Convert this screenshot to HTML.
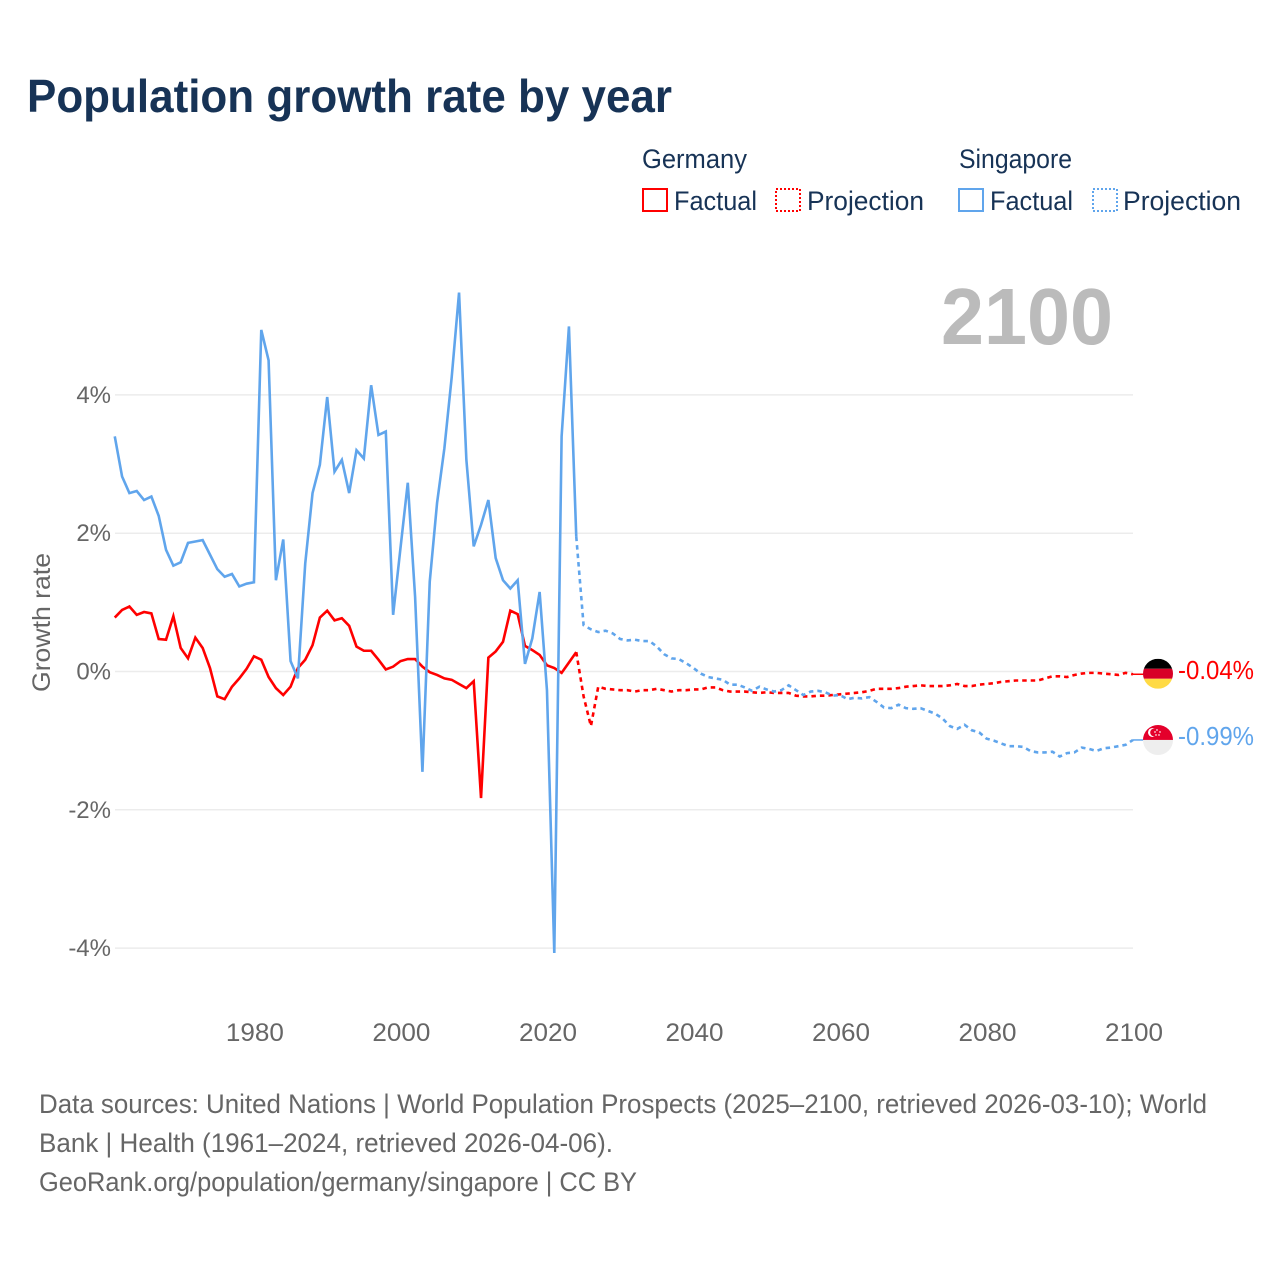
<!DOCTYPE html>
<html lang="en">
<head>
<meta charset="utf-8">
<title>Population growth rate by year</title>
<style>
html,body{margin:0;padding:0;background:#fff;}
svg{display:block;font-family:"Liberation Sans",Arial,sans-serif;}
</style>
</head>
<body>
<svg id="chart" xmlns="http://www.w3.org/2000/svg" width="1280" height="1280" viewBox="0 0 1280 1280">
<rect x="0" y="0" width="1280" height="1280" fill="#ffffff"/>
<text x="27" y="112" font-size="46" font-weight="700" fill="#173356" textLength="645" lengthAdjust="spacingAndGlyphs">Population growth rate by year</text>

<g font-size="27" fill="#173356">
<text x="642" y="168" textLength="105" lengthAdjust="spacingAndGlyphs">Germany</text>
<rect x="643" y="189" width="24" height="22" fill="none" stroke="#ff0000" stroke-width="2"/>
<text x="674" y="210" textLength="83" lengthAdjust="spacingAndGlyphs">Factual</text>
<rect x="776" y="189" width="24" height="22" fill="none" stroke="#ff0000" stroke-width="2" stroke-dasharray="2 2"/>
<text x="807" y="210" textLength="117" lengthAdjust="spacingAndGlyphs">Projection</text>
<text x="959" y="168" textLength="113" lengthAdjust="spacingAndGlyphs">Singapore</text>
<rect x="959" y="189" width="24" height="22" fill="none" stroke="#60a5ec" stroke-width="2"/>
<text x="990" y="210" textLength="83" lengthAdjust="spacingAndGlyphs">Factual</text>
<rect x="1093" y="189" width="24" height="22" fill="none" stroke="#60a5ec" stroke-width="2" stroke-dasharray="2 2"/>
<text x="1123" y="210" textLength="118" lengthAdjust="spacingAndGlyphs">Projection</text>
</g>

<g id="grid"></g>
<text x="941" y="344" font-size="80" font-weight="700" fill="#bbbbbb" textLength="172" lengthAdjust="spacingAndGlyphs">2100</text>
<g id="yTicks" font-size="24" fill="#666666" text-anchor="end"></g>
<g id="xTicks" font-size="25" fill="#666666" text-anchor="middle"></g>
<text transform="translate(50,692) rotate(-90)" font-size="25" fill="#666666" textLength="139" lengthAdjust="spacingAndGlyphs">Growth rate</text>
<g id="series"></g>

<g id="flagDE">
<clipPath id="clipDE"><circle cx="0" cy="0" r="15"/></clipPath>
<g clip-path="url(#clipDE)">
<rect x="-15" y="-15" width="30" height="10" fill="#000000"/>
<rect x="-15" y="-5" width="30" height="10" fill="#d80027"/>
<rect x="-15" y="5" width="30" height="10" fill="#ffda44"/>
</g>
</g>
<g id="flagSG">
<clipPath id="clipSG"><circle cx="0" cy="0" r="15"/></clipPath>
<g clip-path="url(#clipSG)">
<rect x="-15" y="-15" width="30" height="15" fill="#e4002b"/>
<rect x="-15" y="0" width="30" height="15" fill="#eeeeee"/>
<circle cx="-5.5" cy="-7.5" r="4.5" fill="#ffffff"/>
<circle cx="-3.8" cy="-7.5" r="4" fill="#e4002b"/>
<circle cx="-1" cy="-10" r="0.8" fill="#ffffff"/>
<circle cx="2" cy="-8" r="0.8" fill="#ffffff"/>
<circle cx="1" cy="-5" r="0.8" fill="#ffffff"/>
<circle cx="-2" cy="-5" r="0.8" fill="#ffffff"/>
<circle cx="-3" cy="-8" r="0.8" fill="#ffffff"/>
</g>
</g>
<text id="labelDE" x="1178" font-size="26" fill="#ff0000" textLength="76" lengthAdjust="spacingAndGlyphs"></text>
<text id="labelSG" x="1178" font-size="26" fill="#60a5ec" textLength="76" lengthAdjust="spacingAndGlyphs"></text>

<g font-size="27" fill="#666666">
<text x="39" y="1113" textLength="1168" lengthAdjust="spacingAndGlyphs">Data sources: United Nations | World Population Prospects (2025–2100, retrieved 2026-03-10); World</text>
<text x="39" y="1152" textLength="574" lengthAdjust="spacingAndGlyphs">Bank | Health (1961–2024, retrieved 2026-04-06).</text>
<text x="39" y="1191" textLength="598" lengthAdjust="spacingAndGlyphs">GeoRank.org/population/germany/singapore | CC BY</text>
</g>
</svg>
<script>
const yearsFactual = [1961,1962,1963,1964,1965,1966,1967,1968,1969,1970,1971,1972,1973,1974,1975,1976,1977,1978,1979,1980,1981,1982,1983,1984,1985,1986,1987,1988,1989,1990,1991,1992,1993,1994,1995,1996,1997,1998,1999,2000,2001,2002,2003,2004,2005,2006,2007,2008,2009,2010,2011,2012,2013,2014,2015,2016,2017,2018,2019,2020,2021,2022,2023,2024];
const yearsProjection = [2024,2025,2026,2027,2028,2029,2030,2031,2032,2033,2034,2035,2036,2037,2038,2039,2040,2041,2042,2043,2044,2045,2046,2047,2048,2049,2050,2051,2052,2053,2054,2055,2056,2057,2058,2059,2060,2061,2062,2063,2064,2065,2066,2067,2068,2069,2070,2071,2072,2073,2074,2075,2076,2077,2078,2079,2080,2081,2082,2083,2084,2085,2086,2087,2088,2089,2090,2091,2092,2093,2094,2095,2096,2097,2098,2099,2100];
const germanyFactual = [0.78,0.89,0.94,0.82,0.86,0.84,0.47,0.46,0.80,0.34,0.19,0.49,0.34,0.05,-0.36,-0.40,-0.22,-0.10,0.04,0.22,0.17,-0.08,-0.24,-0.34,-0.22,0.05,0.17,0.38,0.78,0.88,0.74,0.77,0.66,0.36,0.30,0.30,0.17,0.03,0.07,0.15,0.18,0.18,0.07,-0.01,-0.05,-0.10,-0.12,-0.18,-0.24,-0.14,-1.83,0.20,0.29,0.43,0.88,0.83,0.37,0.31,0.24,0.09,0.05,-0.02,0.13,0.28];
const singaporeFactual = [3.40,2.82,2.58,2.61,2.48,2.53,2.25,1.76,1.53,1.58,1.86,1.88,1.90,1.69,1.48,1.37,1.41,1.23,1.27,1.29,4.94,4.50,1.32,1.91,0.15,-0.10,1.56,2.58,2.99,3.97,2.89,3.06,2.58,3.20,3.08,4.14,3.42,3.47,0.82,1.78,2.73,1.08,-1.45,1.30,2.44,3.23,4.26,5.48,3.06,1.81,2.12,2.48,1.64,1.32,1.20,1.32,0.11,0.48,1.15,-0.27,-4.07,3.40,4.99,1.95];
const germanyProjection = [0.28,-0.36,-0.79,-0.22,-0.25,-0.26,-0.27,-0.27,-0.29,-0.27,-0.27,-0.25,-0.27,-0.29,-0.27,-0.27,-0.26,-0.26,-0.23,-0.23,-0.27,-0.29,-0.29,-0.29,-0.30,-0.31,-0.30,-0.31,-0.31,-0.31,-0.35,-0.36,-0.36,-0.35,-0.35,-0.34,-0.33,-0.32,-0.31,-0.30,-0.28,-0.25,-0.25,-0.25,-0.24,-0.22,-0.21,-0.20,-0.21,-0.21,-0.21,-0.20,-0.18,-0.21,-0.21,-0.19,-0.18,-0.17,-0.15,-0.14,-0.13,-0.13,-0.13,-0.13,-0.10,-0.07,-0.07,-0.08,-0.05,-0.03,-0.02,-0.02,-0.03,-0.04,-0.05,-0.02,-0.04];
const singaporeProjection = [1.95,0.67,0.61,0.57,0.59,0.55,0.47,0.45,0.46,0.44,0.44,0.36,0.25,0.19,0.18,0.12,0.05,-0.03,-0.08,-0.10,-0.12,-0.19,-0.19,-0.23,-0.28,-0.22,-0.26,-0.29,-0.27,-0.20,-0.27,-0.34,-0.29,-0.28,-0.30,-0.35,-0.34,-0.40,-0.38,-0.39,-0.37,-0.44,-0.52,-0.53,-0.48,-0.53,-0.54,-0.53,-0.57,-0.61,-0.68,-0.79,-0.83,-0.77,-0.85,-0.88,-0.97,-1.00,-1.04,-1.08,-1.08,-1.09,-1.15,-1.17,-1.17,-1.16,-1.23,-1.18,-1.17,-1.10,-1.12,-1.15,-1.11,-1.10,-1.08,-1.06,-0.99];
const yTickValues = [4,2,0,-2,-4];
const yTickLabels = ["4%","2%","0%","-2%","-4%"];
const xTickYears = [1980,2000,2020,2040,2060,2080,2100];
const endLabels = ["-0.04%","-0.99%"];

const GERMANY_COLOR = "#ff0000";
const SINGAPORE_COLOR = "#60a5ec";
const NS = "http://www.w3.org/2000/svg";
function xScale(year){ return 1133 + (year - 2100) * 7.3255; }
function yScale(v){ return 671.5 - v * 69.15; }
function linePath(years, values){
  return values.map(function(v, i){
    return (i ? "L" : "M") + xScale(years[i]).toFixed(2) + " " + yScale(v).toFixed(2);
  }).join("");
}
function make(tag, attrs, parent){
  const el = document.createElementNS(NS, tag);
  for (const k in attrs) el.setAttribute(k, attrs[k]);
  parent.appendChild(el);
  return el;
}
const grid = document.getElementById("grid");
const yG = document.getElementById("yTicks");
const xG = document.getElementById("xTicks");
const series = document.getElementById("series");

yTickValues.forEach(function(v, i){
  const ln = make("line", {x1:115, x2:1133, y1:yScale(v), y2:yScale(v), stroke:"#ececec", "stroke-width":1.5}, grid);
  
  
  const t = make("text", {x:111, y:yScale(v)+8}, yG);
  
  
  t.textContent = yTickLabels[i];
});
xTickYears.forEach(function(yr){
  const t = make("text", {x:xScale(yr)+1, y:1041, textLength:58, lengthAdjust:"spacingAndGlyphs"}, xG);
  
  
  t.textContent = String(yr);
});

const lineGermanyFactual = make("path", {d:linePath(yearsFactual, germanyFactual), fill:"none", stroke:GERMANY_COLOR, "stroke-width":2.6, "stroke-linejoin":"miter"}, series);


const lineGermanyProjection = make("path", {d:linePath(yearsProjection, germanyProjection), fill:"none", stroke:GERMANY_COLOR, "stroke-width":2.6, "stroke-dasharray":"4.5 4"}, series);


const lineSingaporeFactual = make("path", {d:linePath(yearsFactual, singaporeFactual), fill:"none", stroke:SINGAPORE_COLOR, "stroke-width":2.6, "stroke-linejoin":"miter"}, series);


const lineSingaporeProjection = make("path", {d:linePath(yearsProjection, singaporeProjection), fill:"none", stroke:SINGAPORE_COLOR, "stroke-width":2.6, "stroke-dasharray":"4.5 4"}, series);



const endDE = germanyProjection[germanyProjection.length - 1];
const endSG = singaporeProjection[singaporeProjection.length - 1];
const connDE = make("line", {x1:xScale(2100), x2:1145, y1:yScale(endDE), y2:yScale(endDE), stroke:GERMANY_COLOR, "stroke-width":1.5}, series);


const connSG = make("line", {x1:xScale(2100), x2:1145, y1:yScale(endSG), y2:yScale(endSG), stroke:SINGAPORE_COLOR, "stroke-width":1.5}, series);



document.getElementById("flagDE").setAttribute("transform", "translate(1158," + (yScale(endDE) - 0.5) + ")");
document.getElementById("flagSG").setAttribute("transform", "translate(1158," + yScale(endSG) + ")");
const lDE = document.getElementById("labelDE");
lDE.setAttribute("y", yScale(endDE) + 4.5);
lDE.textContent = endLabels[0];
const lSG = document.getElementById("labelSG");
lSG.setAttribute("y", yScale(endSG) + 5);
lSG.textContent = endLabels[1];
</script>
</body>
</html>
